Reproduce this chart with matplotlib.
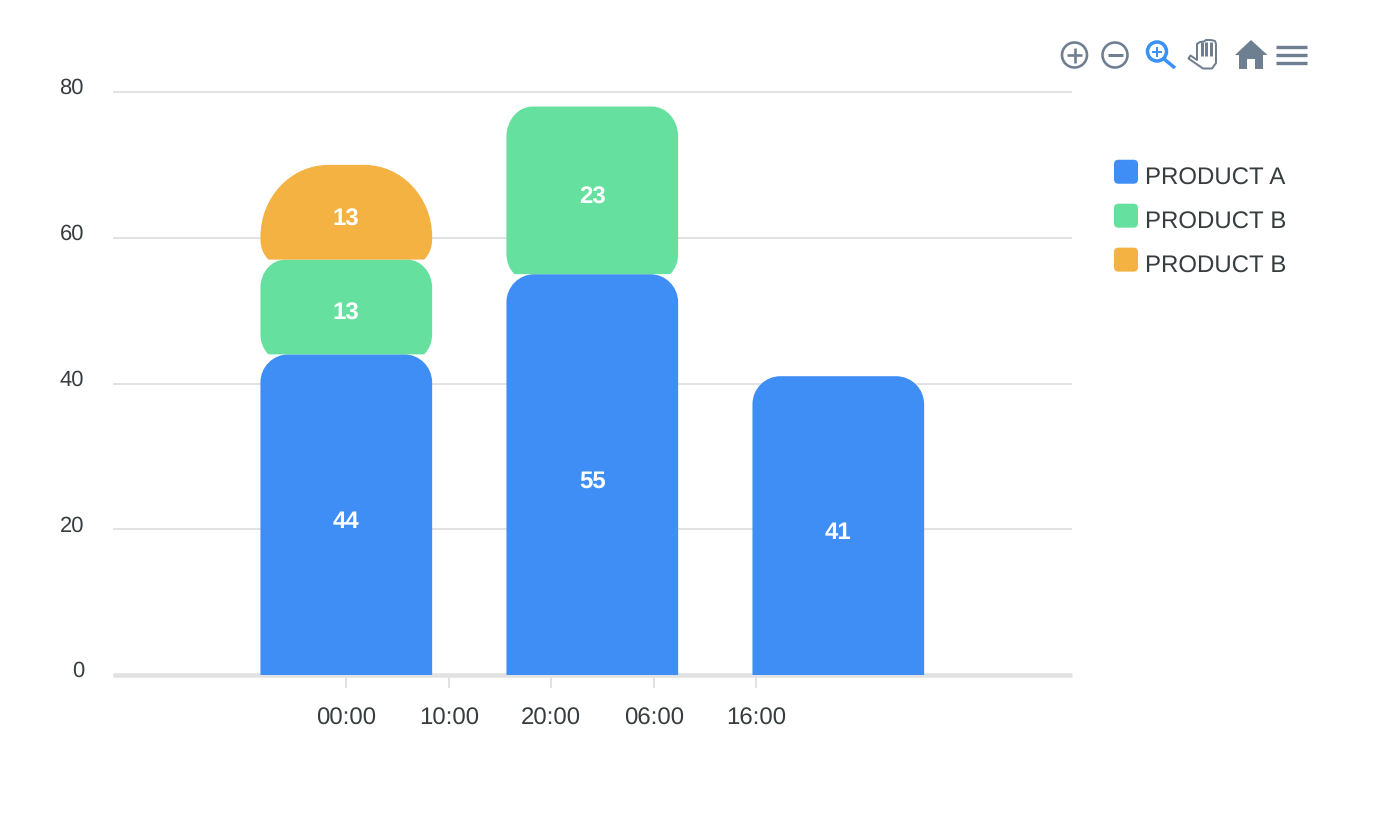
import matplotlib
matplotlib.use("Agg")
import matplotlib.pyplot as plt
from matplotlib.path import Path
from matplotlib.patches import PathPatch, FancyBboxPatch, Circle, Polygon, Rectangle
from matplotlib.legend_handler import HandlerPatch

plt.rcParams["font.family"] = ["Liberation Sans", "DejaVu Sans"]
plt.rcParams["text.hinting"] = "no_hinting"
plt.rcParams["text.hinting_factor"] = 1

# Chart data: bars sit on a time axis measured in hours
bar_hours = [0, 24, 48]
product_a = [44, 55, 41]
product_b = [13, 23, 0]
product_b2 = [13, 0, 0]
series_labels = ["PRODUCT A", "PRODUCT B", "PRODUCT B"]
y_ticks = [0, 20, 40, 60, 80]
x_tick_hours = [0, 10, 20, 30, 40]
x_tick_labels = ["00:00", "10:00", "20:00", "06:00", "16:00"]

# Styling
BLUE, GREEN, ORANGE = "#3e8ef5", "#66e09e", "#f4b243"
TEXT = "#373d3f"
GRID = "#e2e2e2"
ICON = "#6e7f91"
W, H = 1384, 824
PX = 72 / 100  # points per pixel at 100 dpi
BAR_WIDTH_HOURS = 16.75
LEFT, RIGHT, TOP, BOTTOM = 113, 1072, 92, 675

fig = plt.figure(figsize=(W / 100, H / 100), dpi=100)
ax = fig.add_axes([LEFT / W, 1 - BOTTOM / H, (RIGHT - LEFT) / W, (BOTTOM - TOP) / H])
ax.set_xlim(-22.76, 70.80)
ax.set_ylim(0, 80)
for name in ("top", "right", "left"):
    ax.spines[name].set_visible(False)
ax.spines["bottom"].set_color(GRID)
ax.spines["bottom"].set_linewidth(4.5 * PX)
ax.spines["bottom"].set_capstyle("butt")
ax.set_axisbelow(True)
ax.grid(axis="y", color=GRID, linewidth=2 * PX, clip_on=False, solid_capstyle="butt")
ax.grid(axis="x", visible=False)

ax.set_yticks(y_ticks)
ax.tick_params(axis="y", length=0, labelleft=False)
ax.set_xticks(x_tick_hours, x_tick_labels)
ax.tick_params(axis="x", length=13 * PX, width=2 * PX, color=GRID, labelcolor=TEXT,
               labelsize=24 * PX, pad=14)

# Value-axis labels sit slightly above their gridlines
for v in y_ticks:
    ax.annotate(str(v), xy=(0, v), xycoords=("axes fraction", "data"),
                xytext=(-29 * PX, 3.5 * PX), textcoords="offset points",
                ha="right", va="center", fontsize=22 * PX, color=TEXT)

x_per_px = (ax.get_xlim()[1] - ax.get_xlim()[0]) / (RIGHT - LEFT)
y_per_px = 80 / (BOTTOM - TOP)


def bar_path(xc, y0, y1, rx, ry, flared):
    """Bar outline with elliptical top corners and optionally tucked-in bottom corners."""
    hw = BAR_WIDTH_HOURS / 2
    l, r = xc - hw, xc + hw
    rx, ry = rx * x_per_px, ry * y_per_px
    k = 0.5523
    MT, L4, L3, LT, CP = Path.MOVETO, Path.CURVE4, Path.CURVE3, Path.LINETO, Path.CLOSEPOLY
    inset, rise, ctrl = 8 * x_per_px, 20 * y_per_px, 8 * y_per_px
    verts, codes = [], []
    if flared:
        verts += [(l + inset, y0), (l, y0 + ctrl), (l, y0 + rise)]
        codes += [MT, L3, L3]
    else:
        verts += [(l, y0)]
        codes += [MT]
    verts += [(l, y1 - ry),
              (l, y1 - ry + k * ry), (l + rx - k * rx, y1), (l + rx, y1),
              (r - rx, y1),
              (r - rx + k * rx, y1), (r, y1 - ry + k * ry), (r, y1 - ry)]
    codes += [LT, L4, L4, L4, LT, L4, L4, L4]
    if flared:
        verts += [(r, y0 + rise), (r, y0 + ctrl), (r - inset, y0), (l + inset, y0)]
        codes += [LT, L3, L3, CP]
    else:
        verts += [(r, y0), (l, y0)]
        codes += [LT, CP]
    return Path(verts, codes)


# Corner radii in pixels for each segment of the stacks
stack_styles = [
    (product_a, BLUE, [(28, 28), (28, 28), (28, 28)], False),
    (product_b, GREEN, [(25, 28), (26, 30), (0, 0)], True),
    (product_b2, ORANGE, [(68, 72), (0, 0), (0, 0)], True),
]
base = [0, 0, 0]
for values, color, radii, flared in stack_styles:
    for i, v in enumerate(values):
        if v == 0:
            continue
        rx, ry = radii[i]
        ax.add_patch(PathPatch(bar_path(bar_hours[i], base[i], base[i] + v, rx, ry, flared),
                               facecolor=color, edgecolor="none", zorder=3))
        ax.annotate(str(v), xy=(bar_hours[i], base[i] + v / 2), xytext=(0, -7 * PX),
                    textcoords="offset points", ha="center", va="center",
                    color="white", fontsize=24 * PX, fontweight="bold", zorder=4)
        base[i] += v


def rounded_handle(legend, orig_handle, xdescent, ydescent, width, height, fontsize):
    side = 24 * PX
    pad = 3 * PX
    y = -ydescent + (height - side) / 2 + 4.5 * PX
    return FancyBboxPatch((-xdescent + pad, y + pad), side - 2 * pad, side - 2 * pad,
                          boxstyle=f"round,pad={pad},rounding_size={4.5 * PX}", linewidth=0)


handles = [Rectangle((0, 0), 1, 1, facecolor=c) for c in (BLUE, GREEN, ORANGE)]
fs = 24 * PX
leg = fig.legend(handles, series_labels, loc="upper left",
                 bbox_to_anchor=(1114 / W, 1 - 165.5 / H), frameon=False,
                 prop={"size": fs}, labelcolor=TEXT, borderpad=0, borderaxespad=0,
                 handlelength=1, handleheight=1, handletextpad=7 * PX / fs,
                 labelspacing=(44 - 24) * PX / fs,
                 handler_map={Rectangle: HandlerPatch(patch_func=rounded_handle)})

# Toolbar icons, laid out on a pixel-based overlay
ov = fig.add_axes([0, 0, 1, 1], facecolor="none")
ov.set_xlim(0, W)
ov.set_ylim(H, 0)
ov.axis("off")


def seg(x0, y0, x1, y1, color=ICON, lw=3):
    ov.plot([x0, x1], [y0, y1], color=color, lw=lw * PX, solid_capstyle="butt")


ov.add_patch(Circle((1074.5, 55), 12.5, fill=False, ec=ICON, lw=2.6 * PX))
seg(1067, 55, 1082, 55, ICON, 2.6)
seg(1074.5, 47.5, 1074.5, 62.5, ICON, 2.6)
ov.add_patch(Circle((1115, 55), 12.5, fill=False, ec=ICON, lw=2.6 * PX))
seg(1107.5, 55, 1122.5, 55, ICON, 3)

ACTIVE = "#3c91f4"
ov.add_patch(Circle((1157, 51.5), 9.5, fill=False, ec=ACTIVE, lw=3.5 * PX))
seg(1164, 59, 1175, 68, ACTIVE, 3.5)
seg(1152, 51.5, 1162, 51.5, ACTIVE, 2)
seg(1157, 46.5, 1157, 56.5, ACTIVE, 2)

hand = [(1203, 68.5), (1188.5, 58.5), (1190.5, 55.5), (1197, 60), (1197, 44), (1200, 42),
        (1204, 41.5), (1206, 40), (1211, 40), (1215, 41), (1216, 44), (1216, 63), (1212, 68.5)]
ov.add_patch(Polygon(hand, closed=True, fill=False, ec=ICON, lw=2 * PX, joinstyle="round"))
for hx in (1201.5, 1206, 1210.5):
    seg(hx, 42, hx, 56, ICON, 3)

ov.add_patch(Polygon([(1235, 55), (1251, 40), (1267.5, 55), (1263, 55), (1263, 69), (1255, 69),
                      (1255, 59), (1247, 59), (1247, 69), (1239, 69), (1239, 55)],
                     closed=True, fc=ICON, ec="none"))
for my in (46.7, 55, 63.3):
    seg(1276, my, 1307, my, ICON, 3.4)

fig.savefig("out.png", dpi=100, facecolor="white")
